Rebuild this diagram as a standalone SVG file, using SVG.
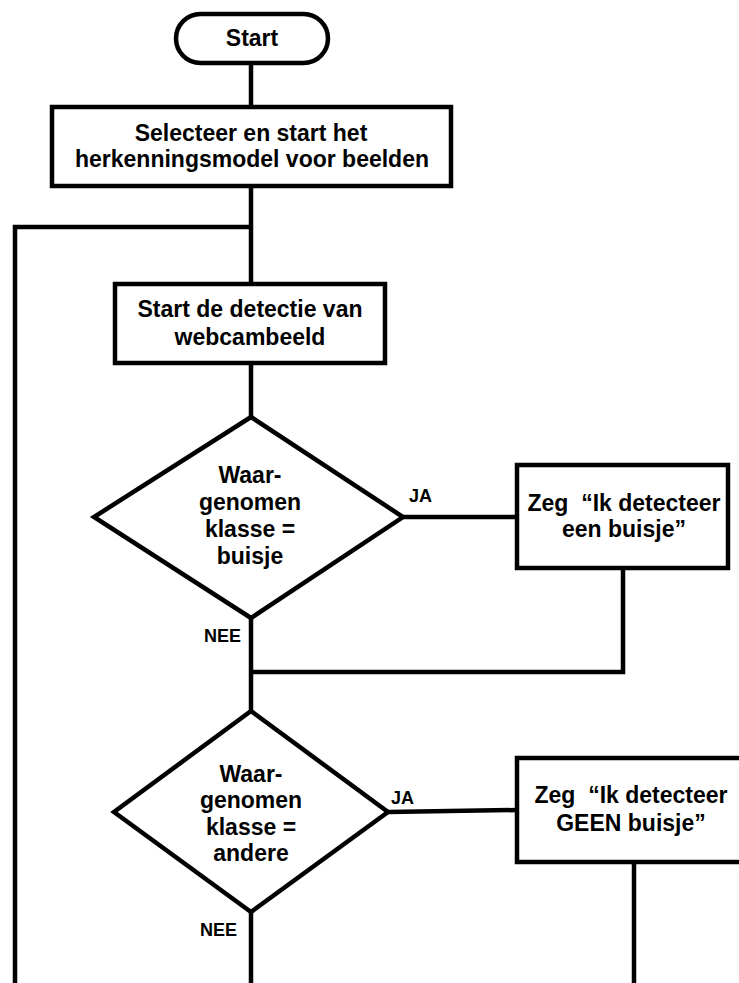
<svg xmlns="http://www.w3.org/2000/svg" width="739" height="983" viewBox="0 0 739 983">
<style>
.shape{fill:#fff;stroke:#000;stroke-width:4.5;}
.conn{fill:none;stroke:#000;stroke-width:4.5;stroke-linejoin:miter;}
.t{font-family:"Liberation Sans",Arial,sans-serif;font-weight:bold;font-size:23px;fill:#000;text-anchor:middle;}
.lbl{font-family:"Liberation Sans",Arial,sans-serif;font-weight:bold;font-size:18px;fill:#000;}
</style>
<rect width="739" height="983" fill="#fff"/>
<g id="connectors">
<line class="conn" x1="251" y1="63" x2="251" y2="107"/>
<line class="conn" x1="251" y1="186" x2="251" y2="284"/>
<polyline class="conn" points="251,227 15,227 15,983"/>
<line class="conn" x1="251" y1="363" x2="251" y2="417"/>
<line class="conn" x1="403" y1="517" x2="517" y2="517"/>
<polyline class="conn" points="623,568 623,672 251,672"/>
<line class="conn" x1="251" y1="618" x2="251" y2="711"/>
<line class="conn" x1="388" y1="812" x2="517" y2="810"/>
<line class="conn" x1="634" y1="862" x2="634" y2="983"/>
<line class="conn" x1="251" y1="912" x2="251" y2="983"/>
<text class="lbl" x="409" y="502">JA</text>
<text class="lbl" x="204" y="642">NEE</text>
<text class="lbl" x="391" y="804">JA</text>
<text class="lbl" x="200" y="936">NEE</text>
</g>
<g id="start">
<rect class="shape" x="176" y="14" width="152" height="49" rx="24.5" ry="24.5"/>
<text class="t" x="252" y="46">Start</text>
</g>
<g id="select-model">
<rect class="shape" x="52" y="107" width="399" height="79"/>
<text class="t" x="251" y="141">Selecteer en start het</text>
<text class="t" x="252" y="167">herkenningsmodel voor beelden</text>
</g>
<g id="start-detection">
<rect class="shape" x="115" y="284" width="270" height="79"/>
<text class="t" x="250" y="317">Start de detectie van</text>
<text class="t" x="250" y="345">webcambeeld</text>
</g>
<g id="decision-buisje">
<polygon class="shape" points="251,417 403,517 251,618 94,517"/>
<text class="t" x="250" y="483">Waar-</text>
<text class="t" x="250" y="510">genomen</text>
<text class="t" x="250" y="537">klasse =</text>
<text class="t" x="250" y="564">buisje</text>
</g>
<g id="say-buisje">
<rect class="shape" x="517" y="465" width="211" height="103"/>
<text class="t" x="624" y="511" xml:space="preserve">Zeg  “Ik detecteer</text>
<text class="t" x="624" y="537">een buisje”</text>
</g>
<g id="decision-andere">
<polygon class="shape" points="251,711 388,812 251,912 114,812"/>
<text class="t" x="251" y="782">Waar-</text>
<text class="t" x="251" y="808">genomen</text>
<text class="t" x="251" y="835">klasse =</text>
<text class="t" x="251" y="861">andere</text>
</g>
<g id="say-geen-buisje">
<rect class="shape" x="517" y="758" width="230" height="104"/>
<text class="t" x="631" y="803" xml:space="preserve">Zeg  “Ik detecteer</text>
<text class="t" x="631" y="831">GEEN buisje”</text>
</g>
</svg>
